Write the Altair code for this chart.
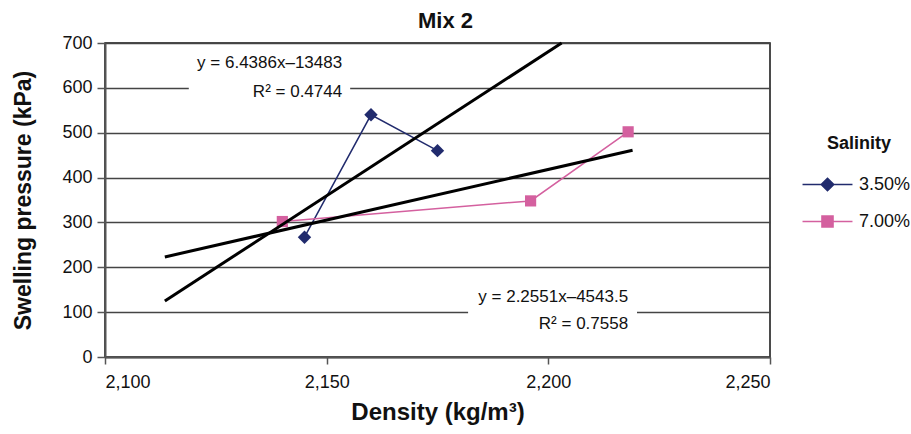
import altair as alt
import pandas as pd

# ---- data ----
series_names = ["3.50%", "7.00%"]
series_colors = ["#212B6D", "#D4609F"]

density_35 = [2145, 2160, 2175]
pressure_35 = [267, 540, 460]
density_70 = [2140, 2196, 2218]
pressure_70 = [302, 348, 502]

# trendlines (endpoints as drawn, steep one clipped at the top of the plot)
trend_ids = ["t1", "t1", "t2", "t2"]
trend_x = [2113.5, 2203.0, 2113.5, 2219.0]
trend_y = [125, 700, 223, 461]

# equation labels
eq_text = ["y = 6.4386x\u201313483", "R\u00b2 = 0.4744", "y = 2.2551x\u20134543.5", "R\u00b2 = 0.7558"]
eq_x = [2153.5, 2153.5, 2218.0, 2218.0]
eq_y = [655, 591, 134, 74]
box_x = [2118.9, 2181.9]
box_x2 = [2155.3, 2220.0]
box_y = [568, 42]
box_y2 = [680, 160]

x_ticks = [2100, 2150, 2200, 2250]
y_ticks = [0, 100, 200, 300, 400, 500, 600, 700]

FONT = "Liberation Sans"
INK = "#111111"

pts = pd.DataFrame({
    "series": [series_names[0]] * len(density_35) + [series_names[1]] * len(density_70),
    "density": density_35 + density_70,
    "pressure": pressure_35 + pressure_70,
})
trend = pd.DataFrame({"id": trend_ids, "density": trend_x, "pressure": trend_y})
eqs = pd.DataFrame({"text": eq_text, "density": eq_x, "pressure": eq_y})
boxes = pd.DataFrame({"density": box_x, "x2": box_x2, "pressure": box_y, "y2": box_y2})

xscale = alt.Scale(domain=[2100, 2250], nice=False, zero=False)
yscale = alt.Scale(domain=[0, 700], nice=False)
cscale = alt.Scale(domain=series_names, range=series_colors)

x_axis = alt.Axis(title="Density (kg/m\u00b3)", values=x_ticks, format=",.0f", grid=False,
                  labelFont=FONT, labelFontSize=18, labelColor=INK,
                  titleFont=FONT, titleFontSize=24, titleFontWeight="bold", titleColor=INK,
                  domainColor="#555555", domainWidth=2, tickColor="#555555", tickWidth=1.5,
                  tickSize=7, labelPadding=9, titlePadding=9)
y_axis = alt.Axis(title="Swelling pressure (kPa)", values=y_ticks, grid=True, format=".0f",
                  gridColor="#444444", gridWidth=1.4,
                  labelFont=FONT, labelFontSize=18, labelColor=INK,
                  titleFont=FONT, titleFontSize=23, titleFontWeight="bold", titleColor=INK,
                  domainColor="#555555", domainWidth=2, tickColor="#555555", tickWidth=1.5,
                  tickSize=8, labelPadding=5, titlePadding=26)

X = alt.X("density:Q", scale=xscale, axis=x_axis)
Y = alt.Y("pressure:Q", scale=yscale, axis=y_axis)

leg = alt.Legend(
    title="Salinity", orient="none", legendX=703, legendY=92,
    titleFontSize=18, titleFont=FONT, titleFontWeight="bold", titleColor=INK,
    titleAnchor="middle", titlePadding=12,
    labelFontSize=18, labelFont=FONT, labelColor=INK, labelOffset=12,
    symbolSize=1369, symbolStrokeWidth=1.5, rowPadding=8, symbolOpacity=1,
)
diamond_path = "M-1.35,0H1.35M0,-0.34L0.34,0L0,0.34L-0.34,0Z"
square_path = "M-1.35,0H1.35M-0.3,-0.3H0.3V0.3H-0.3Z"

legend_layer = alt.Chart(pts).transform_filter("false").mark_point(filled=True).encode(
    x=X, y=Y,
    color=alt.Color("series:N", scale=cscale, legend=leg),
    stroke=alt.Stroke("series:N", scale=alt.Scale(domain=series_names, range=series_colors), legend=leg),
    shape=alt.Shape("series:N", scale=alt.Scale(domain=series_names, range=[diamond_path, square_path]), legend=leg),
)

rects = alt.Chart(boxes).mark_rect(color="white").encode(
    x=X, x2="x2:Q", y=Y, y2="y2:Q",
)

texts = alt.Chart(eqs).mark_text(align="right", baseline="middle", fontSize=17,
                                  font=FONT, color=INK).encode(
    x=X, y=Y, text="text:N"
)

lines = alt.Chart(pts).mark_line(strokeWidth=1.5).encode(
    x=X, y=Y, color=alt.Color("series:N", scale=cscale, legend=None)
)

diamonds = alt.Chart(pts).transform_filter(alt.datum.series == series_names[0]).mark_point(
    shape="diamond", filled=True, size=180, opacity=1
).encode(x=X, y=Y, color=alt.Color("series:N", scale=cscale, legend=None))

squares = alt.Chart(pts).transform_filter(alt.datum.series == series_names[1]).mark_point(
    shape="square", filled=True, size=125, opacity=1
).encode(x=X, y=Y, color=alt.Color("series:N", scale=cscale, legend=None))

trendlines = alt.Chart(trend).mark_line(strokeWidth=3, color="black").encode(
    x=X, y=Y, detail="id:N"
)

chart = alt.layer(legend_layer, rects, texts, lines, diamonds, squares, trendlines).properties(
    width=665, height=314,
    background="white",
    title=alt.TitleParams("Mix 2", fontSize=22, font=FONT, fontWeight="bold", color=INK,
                          offset=10, anchor="middle", dy=9, dx=8),
    padding={"left": 105, "top": 43, "right": 141, "bottom": 77},
    autosize=alt.AutoSizeParams(type="none"),
).configure_view(
    stroke=INK, strokeWidth=1.5
)

chart.save("out.html", embed_options={"renderer": "svg", "actions": False})
